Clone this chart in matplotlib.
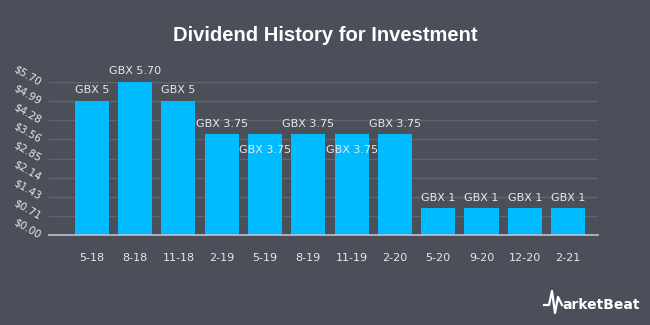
import matplotlib
matplotlib.use("Agg")
import matplotlib.pyplot as plt

dates = ['5-18', '8-18', '11-18', '2-19', '5-19', '8-19', '11-19', '2-20',
         '5-20', '9-20', '12-20', '2-21']
amounts = [5, 5.70, 5, 3.75, 3.75, 3.75, 3.75, 3.75, 1, 1, 1, 1]
labels = ['GBX 5', 'GBX 5.70', 'GBX 5', 'GBX 3.75', 'GBX 3.75', 'GBX 3.75',
          'GBX 3.75', 'GBX 3.75', 'GBX 1', 'GBX 1', 'GBX 1', 'GBX 1']
inside = [False, False, False, False, True, False, True, False,
          False, False, False, False]
yticks = [0.00, 0.71, 1.43, 2.14, 2.85, 3.56, 4.28, 4.99, 5.70]

bg = '#4a4f5a'
bar_color = '#00bbff'
text_color = '#e8e8e8'

fig = plt.figure(figsize=(6.5, 3.25), dpi=100, facecolor=bg)
ax = fig.add_axes([49 / 650, 90 / 325, 549 / 650, 153 / 325])
ax.set_facecolor(bg)

x = range(len(dates))
ax.bar(x, amounts, width=0.787, color=bar_color, zorder=3)

for xi, val, lab, ins in zip(x, amounts, labels, inside):
    if ins:
        ax.annotate(lab, (xi, val), xytext=(0, -11), textcoords='offset points',
                    ha='center', va='center', color=text_color, fontsize=8,
                    zorder=4, annotation_clip=False)
    else:
        ax.annotate(lab, (xi, val), xytext=(0, 4), textcoords='offset points',
                    ha='center', va='bottom', color=text_color, fontsize=8,
                    zorder=4, annotation_clip=False)

ax.set_ylim(0, 5.70)
ax.set_xlim(-0.99, 11.69)
ax.set_yticks(yticks)
ax.set_yticklabels(['$%.2f' % v for v in yticks], rotation=-30,
                   color=text_color, fontsize=7.5, ha='right', rotation_mode='anchor')
ax.set_xticks(list(x))
ax.set_xticklabels(dates, color=text_color, fontsize=8)
ax.tick_params(axis='both', length=0)
ax.tick_params(axis='x', pad=13)
ax.tick_params(axis='y', pad=6)
ax.grid(axis='y', color='#5f646e', linewidth=1, zorder=0)

for side in ['top', 'right', 'left']:
    ax.spines[side].set_visible(False)
ax.spines['bottom'].set_color('#bfc3c9')
ax.spines['bottom'].set_linewidth(1.2)
ax.spines['bottom'].set_zorder(5)

fig.text(0.5, 0.89, 'Dividend History for Investment', ha='center', va='center',
         color='white', fontsize=14.5, fontweight='bold', family='Liberation Sans')

# MarketBeat logo
fig.lines.append(plt.Line2D([544 / 650, 549 / 650, 552 / 650, 555 / 650, 558 / 650, 562 / 650],
                            [20 / 325, 20 / 325, 34 / 325, 12 / 325, 28 / 325, 20 / 325],
                            transform=fig.transFigure, color='white', linewidth=1.6))
fig.text(562 / 650, 20 / 325, 'arketBeat', ha='left', va='center', color='white',
         fontsize=10, fontweight='bold')

fig.savefig('out.png', dpi=100, facecolor=bg)
